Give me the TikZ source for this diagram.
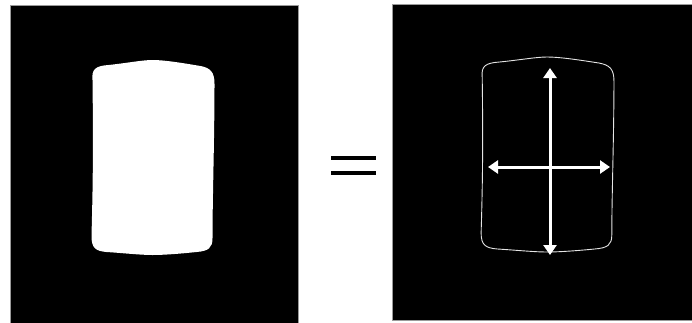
\documentclass[tikz,border=0pt]{standalone}
\usepackage{xcolor}
\usepackage{tikz}
\usetikzlibrary{arrows.meta,positioning}
\definecolor{frame}{HTML}{9A9A9A}
\definecolor{rim}{HTML}{E4E4E4}
\tikzset{
  panel/.style={fill=black,draw=frame,line width=0.6pt},
  blobfill/.style={fill=white},
  blobline/.style={draw=rim,line width=0.9pt},
  axis/.style={{Triangle[length=10pt,width=13pt]}-{Triangle[length=10pt,width=13pt]},line width=3pt,color=white},
  eqbar/.style={line width=4pt,color=black},
}
% blob outline in local pixel coords, centred on (0,0)
\newcommand{\blobpath}{%
  (-60,-78) .. controls (-61,-89) and (-57,-92) .. (-44,-93)
  .. controls (-25,-95) and (-10,-98) .. (0,-98)
  .. controls (12,-98) and (30,-95) .. (48,-92)
  .. controls (58,-90) and (62,-86) .. (62,-74)
  .. controls (62,-20) and (60,40) .. (60,80)
  .. controls (60,90) and (56,93) .. (44,94)
  .. controls (25,96) and (10,97) .. (0,97)
  .. controls (-12,97) and (-30,95) .. (-46,94)
  .. controls (-57,93) and (-61,90) .. (-61,78)
  .. controls (-60,40) and (-59,0) .. (-60,-78) -- cycle
}

\begin{document}
\begin{tikzpicture}[x=1pt,y=-1pt]
    \useasboundingbox (0,0) rectangle (692,322);
    % left panel: filled region
    \draw[panel] (10,5) rectangle (298,330);
    \begin{scope}[shift={(152.5,158)}]
      \fill[blobfill] \blobpath;
    \end{scope}
    % equals sign
    \coordinate (eqa) at (331,158);
    \coordinate (eqb) at (376,158);
    \coordinate (eqc) at (331,173);
    \coordinate (eqd) at (376,173);
    \draw[eqbar] (eqa) -- (eqb);
    \draw[eqbar] (eqc) -- (eqd);
    % right panel: contour and axes
    \draw[panel] (392,4) rectangle (700,320);
    \begin{scope}[shift={(547,155)},xscale=1.08]
      \draw[blobline] \blobpath;
    \end{scope}
    \coordinate (top) at (550,68);
    \coordinate (bot) at (550,255);
    \coordinate (lft) at (488,167);
    \coordinate (rgt) at (610,167);
    \draw[axis] (bot) -- (top);
    \draw[axis] (lft) -- (rgt);
  \end{tikzpicture}
\end{document}
